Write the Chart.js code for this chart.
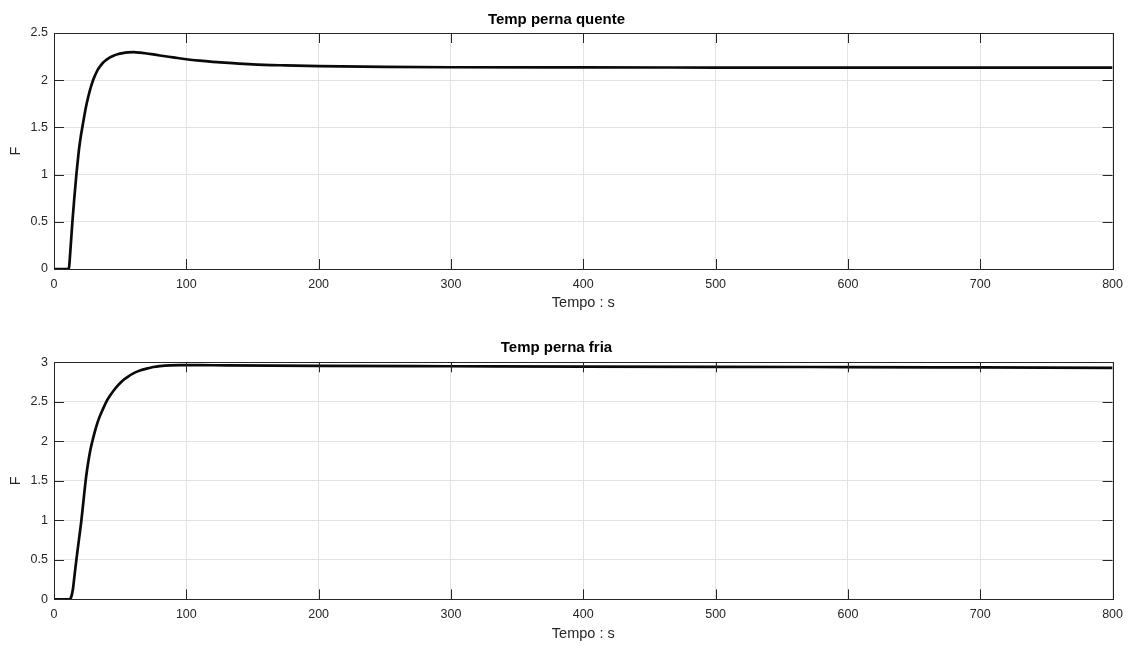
<!DOCTYPE html>
<html>
<head>
<meta charset="utf-8">
<script src="https://cdn.jsdelivr.net/npm/chart.js@4.4.0/dist/chart.umd.min.js"></script>
<style>
    body { margin: 0; background: #fff; }
    .painel { position: absolute; left: 0; width: 1131px; height: 323px; }
</style>
</head>
<body>
<div class="painel" style="top:0"><canvas id="quente"></canvas></div>
<div class="painel" style="top:323px"><canvas id="fria"></canvas></div>
<script>
/* Temp perna quente */
var tempoQuente = [0, 11, 11.5, 12, 13, 13.9, 15.4, 16.9, 18, 19, 20.2, 21.4, 23, 24.5, 26, 27.5, 29.5, 31, 33, 35, 37, 39.5, 42, 45, 48, 52, 56, 60, 65, 70, 75, 80, 90, 100, 110, 120, 135, 150, 175, 200, 250, 300, 400, 500, 600, 700, 800];
var valorQuente = [0, 0, 0.03, 0.12, 0.32, 0.5, 0.76, 1.0, 1.15, 1.28, 1.4, 1.5, 1.63, 1.74, 1.83, 1.91, 2.0, 2.05, 2.11, 2.15, 2.185, 2.215, 2.24, 2.26, 2.275, 2.287, 2.294, 2.297, 2.292, 2.283, 2.273, 2.262, 2.242, 2.222, 2.207, 2.195, 2.18, 2.168, 2.157, 2.149, 2.141, 2.137, 2.135, 2.134, 2.133, 2.133, 2.133];

/* Temp perna fria */
var tempoFria = [0, 11.5, 12.5, 13.5, 14.4, 15.5, 16.9, 18.8, 20.7, 22.3, 23.9, 25, 26.3, 27.6, 29, 30.5, 32, 34, 36.5, 39.5, 42, 45, 48.5, 52, 56, 60, 65, 70, 75, 80, 88, 95, 110, 130, 200, 300, 400, 500, 600, 700, 800];
var valorFria = [0, 0, 0.01, 0.06, 0.14, 0.3, 0.5, 0.75, 1.0, 1.25, 1.5, 1.64, 1.78, 1.9, 2.0, 2.1, 2.19, 2.29, 2.39, 2.5, 2.57, 2.64, 2.71, 2.77, 2.82, 2.86, 2.895, 2.92, 2.94, 2.952, 2.962, 2.965, 2.964, 2.961, 2.955, 2.95, 2.945, 2.942, 2.94, 2.935, 2.93];

var ticksX = [0, 100, 200, 300, 400, 500, 600, 700, 800];
var ticksQuente = [0, 0.5, 1, 1.5, 2, 2.5];
var ticksFria = [0, 0.5, 1, 1.5, 2, 2.5, 3];

var corTexto = '#262626';
Chart.defaults.font.family = '"Liberation Sans", Arial, sans-serif';
Chart.defaults.color = corTexto;

/* caixa e marcas para dentro, estilo matlab */
var caixa = {
    id: 'caixa',
    afterDraw: function (chart) {
        var ctx = chart.ctx, a = chart.chartArea;
        var sx = chart.scales.x, sy = chart.scales.y;
        var L = 10;
        ctx.save();
        ctx.strokeStyle = corTexto;
        ctx.lineWidth = 1;
        ctx.beginPath();
        sx.ticks.forEach(function (t) {
            var px = Math.round(sx.getPixelForValue(t.value)) + 0.5;
            ctx.moveTo(px, a.bottom); ctx.lineTo(px, a.bottom - L);
            ctx.moveTo(px, a.top); ctx.lineTo(px, a.top + L);
        });
        sy.ticks.forEach(function (t) {
            var py = Math.round(sy.getPixelForValue(t.value)) + 0.5;
            ctx.moveTo(a.left, py); ctx.lineTo(a.left + L, py);
            ctx.moveTo(a.right, py); ctx.lineTo(a.right - L, py);
        });
        ctx.stroke();
        ctx.strokeRect(Math.round(a.left) + 0.5, Math.round(a.top) + 0.5,
            Math.round(a.right - a.left), Math.round(a.bottom - a.top));
        ctx.restore();
    }
};

function pontos(ts, vs) {
    var p = [];
    for (var i = 0; i < ts.length; i++) p.push({x: ts[i], y: vs[i]});
    return p;
}

function rotulo(v) { return String(v); }

function grafico(id, titulo, ts, vs, ticksY, cfg) {
    var ctx = document.getElementById(id).getContext('2d');
    return new Chart(ctx, {
        type: 'line',
        data: {
            datasets: [{
                data: pontos(ts, vs),
                borderColor: '#0a0a0a',
                borderWidth: 2.7,
                pointRadius: 0,
                cubicInterpolationMode: 'monotone',
                fill: false
            }]
        },
        options: {
            responsive: true,
            maintainAspectRatio: false,
            animation: false,
            layout: { padding: { left: 0, right: 18, top: 0, bottom: 0 } },
            plugins: {
                legend: { display: false },
                tooltip: { enabled: false },
                title: {
                    display: true,
                    text: titulo,
                    color: '#000',
                    font: { size: 15, weight: 'bold', lineHeight: 1.2 },
                    padding: { top: cfg.tituloTopo, bottom: cfg.tituloBaixo }
                }
            },
            scales: {
                x: {
                    type: 'linear',
                    min: 0, max: 800,
                    afterBuildTicks: function (s) { s.ticks = ticksX.map(function (v) { return {value: v}; }); },
                    afterFit: function (s) { s.height = cfg.alturaX; },
                    grid: { color: '#e3e3e3', drawTicks: false },
                    border: { display: false },
                    ticks: { padding: 8, font: { size: 12.5 }, color: corTexto, maxRotation: 0, callback: rotulo },
                    title: {
                        display: true, text: 'Tempo : s', color: corTexto,
                        font: { size: 14.5, lineHeight: 1.2 },
                        padding: { top: 0, bottom: cfg.tituloX }
                    }
                },
                y: {
                    min: 0, max: ticksY[ticksY.length - 1],
                    afterBuildTicks: function (s) { s.ticks = ticksY.map(function (v) { return {value: v}; }); },
                    afterFit: function (s) { s.width = 54; },
                    grid: { color: '#e3e3e3', drawTicks: false },
                    border: { display: false },
                    ticks: { padding: 6, font: { size: 12.5 }, color: corTexto, callback: rotulo },
                    title: {
                        display: true, text: 'F', color: corTexto,
                        font: { size: 14.5, lineHeight: 1.2 },
                        padding: { top: 7, bottom: 0 }
                    }
                }
            }
        },
        plugins: [caixa]
    });
}

grafico('quente', 'Temp perna quente', tempoQuente, valorQuente, ticksQuente,
    { tituloTopo: 10.5, tituloBaixo: 4.5, alturaX: 54, tituloX: 11 });
grafico('fria', 'Temp perna fria', tempoFria, valorFria, ticksFria,
    { tituloTopo: 16, tituloBaixo: 5.3, alturaX: 46.7, tituloX: 3.5 });
</script>
</body>
</html>
